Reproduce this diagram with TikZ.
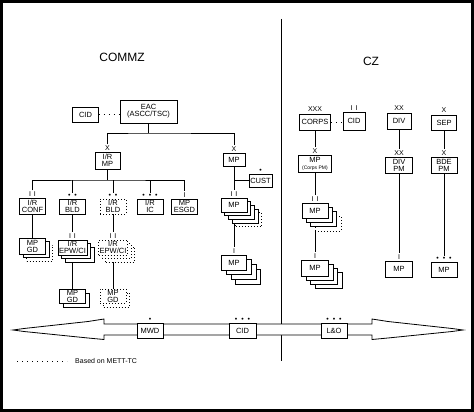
\documentclass[tikz,border=0pt]{standalone}
\usepackage{fontspec}
\setmainfont{Liberation Sans}
\usetikzlibrary{positioning,backgrounds}

\newcommand{\twobar}{I\hspace{3pt}I}
\newcommand{\twodot}{•\hspace{4pt}•}
\newcommand{\threedot}{•\hspace{4pt}•\hspace{4pt}•}

\tikzset{
  unitbox/.style={draw, fill=white, line width=0.8pt, minimum width=26pt, minimum height=15pt,
    inner sep=0pt, align=center, font=\fontsize{7.5}{7}\selectfont},
  planned/.style={dash pattern=on 0.8pt off 2.2pt},
  echelon/.style={inner sep=1pt, font=\fontsize{7}{7}\selectfont},
  link/.style={line width=0.8pt},
  hint/.style={line width=0.8pt, dash pattern=on 0.8pt off 4.2pt},
}

\begin{document}
\begin{tikzpicture}[x=1pt,y=-1pt]
\useasboundingbox (0,0) rectangle (474,412);

% zones
\node (commz) at (122,57) {\fontsize{12}{12}\selectfont COMMZ};
\node (cz) at (371,61) {\fontsize{12}{12}\selectfont CZ};
\draw[link] (281.5,19) -- (281.5,361);

% COMMZ, top
\node[unitbox] (cidl) at (85.5,114.5) {CID};
\node[unitbox, minimum width=57pt, minimum height=23pt] (eac) at (148.5,111.5) {EAC\\(ASCC/TSC)};
\node[unitbox, minimum width=25pt, minimum height=17pt] (irmp) at (107.5,160.5) {I/R\\MP};
\node[echelon, above=0pt of irmp] (irmpx) {X};
\node[unitbox, minimum width=22pt, minimum height=13pt] (mpa) at (234,159.5) {MP};
\node[echelon, above=0pt of mpa] (mpax) {X};
\node[unitbox, minimum width=23pt, minimum height=13pt] (cust) at (260.5,180.5) {CUST};
\node[echelon, above=0pt of cust] (custx) {•};

% COMMZ, I/R branch
\node[unitbox, minimum height=16pt] (conf) at (32.5,206) {I/R\\CONF};
\node[echelon, above=0pt of conf] (confx) {\twobar};
\node[unitbox] (bld) at (72.5,206.5) {I/R\\BLD};
\node[echelon, above=0pt of bld] (bldx) {\twodot};
\node[unitbox, planned] (bldd) at (113,206.5) {I/R\\BLD};
\node[echelon, above=0pt of bldd] (blddx) {\twodot};
\node[unitbox] (ic) at (150,206.5) {I/R\\IC};
\node[echelon, above=0pt of ic] (icx) {\threedot};
\node[unitbox] (esgd) at (184.5,206.5) {MP\\ESGD};
\node[echelon, above=0pt of esgd] (esgdx) {I};

\node[unitbox, planned, minimum height=16pt] at (39.5,253) {};
\node[unitbox, minimum height=16pt] at (36,249.5) {};
\node[unitbox, minimum height=16pt] (gd1) at (32.5,246.5) {MP\\GD};

\foreach \k in {2,1}
  \node[unitbox, minimum width=29pt] at ({72.5+3.5*\k},{247.5+3.5*\k}) {};
\node[unitbox, minimum width=29pt] (epw) at (72.5,247.5) {I/R\\EPW/CI};
\node[echelon, above=0pt of epw] (epwx) {\twobar};
\foreach \k in {2,1}
  \node[unitbox, planned, minimum width=29pt] at ({113+3.5*\k},{247.5+3.5*\k}) {};
\node[unitbox, planned, minimum width=29pt] (epwd) at (113,247.5) {I/R\\EPW/CI};
\node[echelon, above=0pt of epwd] (epwdx) {\twobar};

\node[unitbox, minimum height=14pt] at (76,300) {};
\node[unitbox, minimum height=14pt] (gd2) at (72.5,296) {MP\\GD};
\node[unitbox, planned, minimum height=14pt] at (116.5,300) {};
\node[unitbox, planned, minimum height=14pt] (gd2d) at (113,296) {MP\\GD};

% COMMZ, MP branch
\node[unitbox, planned, minimum height=14pt] at ({234+3.7*4},{205+3.7*4}) {};
\foreach \k in {3,2,1}
  \node[unitbox, minimum height=14pt] at ({234+3.7*\k},{205+3.7*\k}) {};
\node[unitbox, minimum height=14pt] (sta) at (234,205) {MP};
\node[echelon, above=0pt of sta] (stax) {\twobar};
\foreach \k in {3,2,1}
  \node[unitbox, minimum width=25pt] at ({234+4.7*\k},{262.5+4.7*\k}) {};
\node[unitbox, minimum width=25pt] (stb) at (234,262.5) {MP};
\node[echelon, above=0pt of stb] (stbx) {I};

% CZ
\node[unitbox, minimum width=31pt, minimum height=16pt] (corps) at (315,122) {CORPS};
\node[echelon, above=1pt of corps] (corpsx) {XXX};
\node[unitbox, minimum width=22pt, minimum height=18pt] (cidr) at (354,121) {CID};
\node[echelon, above=0pt of cidr] (cidrx) {\twobar};
\node[unitbox, minimum width=24pt, minimum height=16pt] (div) at (399,121) {DIV};
\node[echelon, above=1pt of div] (divx) {XX};
\node[unitbox, minimum width=25pt] (sep) at (444,123) {SEP};
\node[echelon, above=1pt of sep] (sepx) {X};

\node[unitbox, minimum width=33pt, minimum height=17pt] (mpc) at (315,163.5) {MP\\{\fontsize{5}{5}\selectfont (Corps PM)}};
\node[echelon, above=0pt of mpc] (mpcx) {X};
\node[unitbox, minimum width=27pt, minimum height=16pt] (divpm) at (399,165) {DIV\\PM};
\node[echelon, above=0pt of divpm] (divpmx) {XX};
\node[unitbox, minimum height=16pt] (bdepm) at (444,165) {BDE\\PM};
\node[echelon, above=0pt of bdepm] (bdepmx) {X};

\node[unitbox, planned] at ({315+4.3*3},{210.5+4.3*3}) {};
\foreach \k in {2,1}
  \node[unitbox] at ({315+4.3*\k},{210.5+4.3*\k}) {};
\node[unitbox] (stc) at (315,210.5) {MP};
\node[echelon, above=0pt of stc] (stcx) {\twobar};
\foreach \k in {3,2,1}
  \node[unitbox, minimum width=27pt, minimum height=16pt] at ({315+4.5*\k},{268+4.2*\k}) {};
\node[unitbox, minimum width=27pt, minimum height=16pt] (std) at (315,268) {MP};
\node[echelon, above=0pt of std] (stdx) {I};
\node[unitbox, minimum width=27pt, minimum height=16pt] (mpd) at (399,269) {MP};
\node[echelon, above=0pt of mpd] (mpdx) {I};
\node[unitbox] (mpe) at (444,269.5) {MP};
\node[echelon, above=0pt of mpe] (mpex) {\threedot};

% support across the zones
\draw[link, fill=white] (13,330) -- (24,328.5) -- (88,321.5) -- (104,319) -- (104,324)
  -- (372,324) -- (372,319) -- (388,321.5) -- (452,328.5) -- (463,330)
  -- (452,331.5) -- (388,338) -- (372,339.5) -- (372,335) -- (104,335) -- (104,339.5)
  -- (88,338) -- (24,331.5) -- cycle;
\node[unitbox] (mwd) at (150,330.5) {MWD};
\node[echelon, above=0pt of mwd] (mwdx) {•};
\node[unitbox, minimum width=27pt] (cida) at (242.5,330.5) {CID};
\node[echelon, above=0pt of cida] (cidax) {\threedot};
\node[unitbox] (lo) at (334,330.5) {L\&O};
\node[echelon, above=0pt of lo] (lox) {\threedot};

% legend
\coordinate (keya) at (17,361);
\coordinate (keyb) at (67,361);
\draw[hint] (keya) -- (keyb);
\node[anchor=west, inner sep=0pt, font=\fontsize{7}{7}\selectfont] (key) at (75,361) {Based on METT-TC};

% links
\begin{pgfonlayer}{background}
\draw[hint] (cidl.east) -- (cidl.east -| eac.west);
\coordinate (eacb) at (148.5,133);
\draw[link] (eac.south) -- (eacb);
\draw[link] (irmpx.north) |- (eacb) -| (mpax.north);
\coordinate (irb) at (107.5,180);
\draw[link] (irmp.south) -- (irb);
\draw[link] (confx.north) |- (irb) -| (esgdx.north);
\foreach \m in {bldx,blddx,icx}
  \draw[link] (\m.north) -- (\m.north |- irb);
\draw[link] (conf) -- (gd1);
\draw[link] (bld) -- (epwx.north);
\draw[link] (bldd) -- (epwdx.north);
\draw[link] (epw) -- (gd2);
\draw[link] (epwd) -- (gd2d);
\draw[link] (mpa) -- (stax.north);
\draw[link] (cust.west) -- (cust.west -| mpa.south);
\draw[link] (sta) -- (stbx.north);
\draw[hint] (corps.east) -- (corps.east -| cidr.west);
\draw[link] (corps) -- (mpcx.north);
\draw[link] (div) -- (divpmx.north);
\draw[link] (sep) -- (bdepmx.north);
\draw[link] (mpc) -- (stcx.north);
\draw[link] (stc) -- (stdx.north);
\draw[link] (divpm) -- (mpdx.north);
\draw[link] (bdepm) -- (mpex.north);
\end{pgfonlayer}

% frame
\draw[line width=3pt] (1.5,1.5) rectangle (472.5,410.5);
\end{tikzpicture}
\end{document}
